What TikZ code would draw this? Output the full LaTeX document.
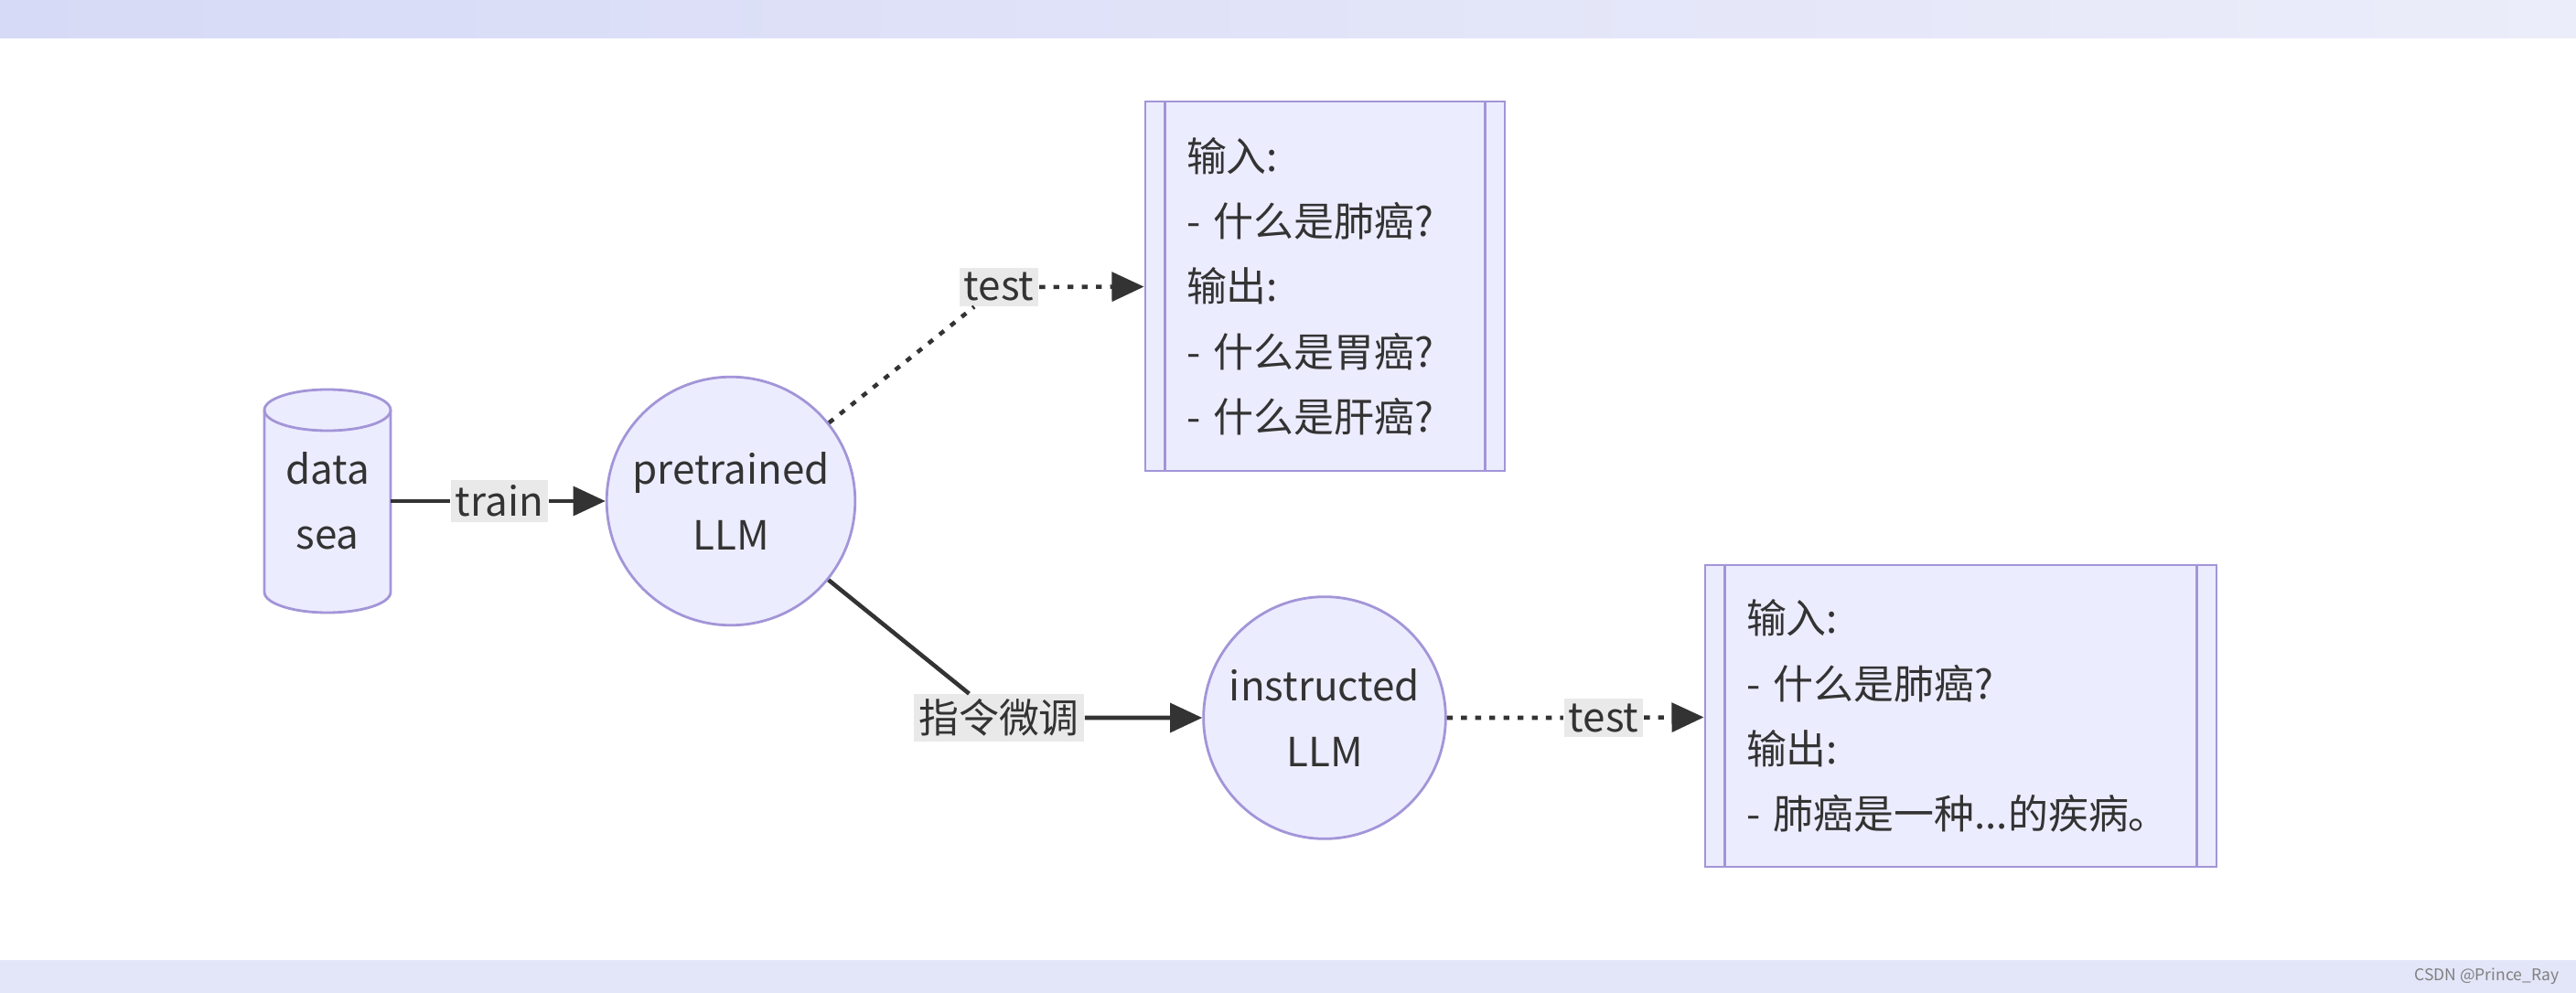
\documentclass[tikz,border=0pt]{standalone}
\usepackage{fontspec}
\setmainfont{Noto Sans CJK SC}
\usetikzlibrary{arrows.meta,backgrounds}
\definecolor{nodefill}{HTML}{ECECFF}
\definecolor{nodeline}{HTML}{A395D8}
\definecolor{edgeline}{HTML}{333333}
\definecolor{labelbg}{HTML}{E9E9E9}
\definecolor{bandL}{HTML}{D6DAF6}
\definecolor{bandM}{HTML}{E3E6F8}
\definecolor{bandR}{HTML}{ECEDFA}
\begin{document}
\begin{tikzpicture}[
    every node/.style={font=\fontsize{12.5}{20.3}\selectfont, text=edgeline},
    outline/.style={draw=nodeline, fill=nodefill, line width=0.8pt},
    llm/.style={circle, outline, align=center},
    io/.style={rectangle, outline, align=left, inner xsep=0.45cm},
    lbl/.style={fill=labelbg, inner sep=1.5pt},
    edge/.style={draw=edgeline, line width=1.3pt},
    dots/.style={edge, dash pattern=on 1.8pt off 2.6pt},
    tip/.style={-{Triangle[length=10pt,width=9pt]}}
]
    \useasboundingbox (0,0) rectangle (28.16,-10.86);
    % Background
    \begin{scope}[on background layer]
        \fill[white] (0,0) rectangle (28.16,-10.86);
        \shade[left color=bandL, middle color=bandM, right color=bandR] (0,0) rectangle (28.16,-0.42);
        \fill[bandM] (0,-10.5) rectangle (28.16,-10.86);
    \end{scope}
    \node[font=\fontsize{5}{6}\selectfont, text=gray, anchor=east] (wm) at (28.1,-10.68) {CSDN @Prince\_Ray};

    % Draw nodes
    \node[minimum width=1.38cm, minimum height=2.44cm, outer sep=0pt, align=center] (1) at (3.58,-5.48) {data\\sea};
    \node[llm, minimum size=2.66cm] (2) at (7.99,-5.48) {pretrained\\LLM};
    \node[io, text width=3.03cm, minimum height=4.04cm] (3) at (14.485,-3.13)
        {输入:\\- 什么是肺癌?\\输出:\\- 什么是胃癌?\\- 什么是肝癌?};
    \node[llm, minimum size=2.58cm] (4) at (14.48,-7.85) {instructed\\LLM};
    \node[io, text width=4.69cm, minimum height=3.30cm] (5) at (21.435,-7.83)
        {输入:\\- 什么是肺癌?\\输出:\\- 肺癌是一种...的疾病。};
    \foreach \n in {3,5} {
        \draw[nodeline, line width=0.8pt] ([xshift=0.23cm]\n.north west) -- ([xshift=0.23cm]\n.south west);
        \draw[nodeline, line width=0.8pt] ([xshift=-0.23cm]\n.north east) -- ([xshift=-0.23cm]\n.south east);
    }

    % Cylinder behind the data sea text
    \begin{scope}[on background layer]
        \path[outline] ([yshift=-0.225cm]1.north west) -- ([yshift=0.225cm]1.south west)
            arc[start angle=180, end angle=360, x radius=0.69cm, y radius=0.225cm]
            -- ([yshift=-0.225cm]1.north east)
            arc[start angle=0, end angle=180, x radius=0.69cm, y radius=0.225cm] -- cycle;
        \draw[nodeline, line width=0.8pt] ([yshift=-0.225cm]1.north west)
            arc[start angle=180, end angle=360, x radius=0.69cm, y radius=0.225cm];
    \end{scope}

    % Draw edge labels
    \node[lbl] (tr) at (5.46,-5.48) {train};
    \node[lbl] (t1) at (10.92,-3.14) {test};
    \node[lbl] (ft) at (10.92,-7.85) {指令微调};
    \node[lbl] (t2) at (17.53,-7.85) {test};

    % Draw edges
    \draw[edge, tip] (1) -- (tr) -- (2);
    \draw[dots, tip] (2) -- (t1) -- (3);
    \draw[edge, tip] (2) -- (ft) -- (4);
    \draw[dots, tip] (4) -- (t2) -- (5);
\end{tikzpicture}
\end{document}
